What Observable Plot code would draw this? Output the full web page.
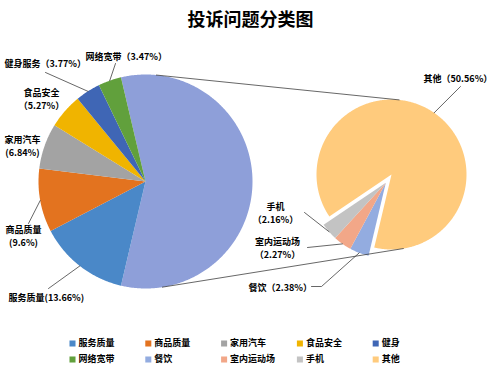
<!DOCTYPE html>
<html><head><meta charset="utf-8">
<script src="https://cdn.jsdelivr.net/npm/d3@7"></script>
<script src="https://cdn.jsdelivr.net/npm/@observablehq/plot@0.6"></script>
<style>body{margin:0;background:#fff}</style>
</head><body><div id="chart"></div>
<script>
// ---- data ----
const title = "投诉问题分类图";
const mainCats = ["服务质量","商品质量","家用汽车","食品安全","健身服务","网络宽带"];
const mainVals = [13.66, 9.6, 6.84, 5.27, 3.77, 3.47];
const subCats = ["餐饮","室内运动场","手机","其他"];
const subVals = [2.38, 2.27, 2.16, 50.56];
const legendCats = ["服务质量","商品质量","家用汽车","食品安全","健身","网络宽带","餐饮","室内运动场","手机","其他"];
const legendColors = ["#4A88C8","#E3731F","#A3A3A3","#F0B400","#3F66B5","#61A03C","#93ACE0","#F2A788","#C3C3C3","#FFCB7D"];
const aggColor = "#8E9FD9";

// ---- layout ----
const W = 500, H = 371;
const C1 = [145, 181], R1 = 107;   // main pie
const C2 = [391, 174], R2 = 75;    // secondary pie
const explode = 10;
const deg = Math.PI / 180;
// label layout: format, text position, anchor, leader waypoints (from slice edge)
const labelLayout = {
  "服务质量": {fmt: v => `服务质量(${v}%)`, x: 8, y: 296, anchor: "start", leader: [[48, 288]]},
  "商品质量": {fmt: v => `商品质量\n(${v}%)`, x: 23, y: 235, anchor: "middle", leader: [[28, 223]]},
  "家用汽车": {fmt: v => `家用汽车\n(${v}%)`, x: 22, y: 144.5, anchor: "middle", leader: null},
  "食品安全": {fmt: v => `食品安全\n（${v}%）`, x: 41, y: 97.5, anchor: "middle", leader: null},
  "健身服务": {fmt: v => `健身服务（${v}%）`, x: 4, y: 62, anchor: "start", leader: [[45, 72]]},
  "网络宽带": {fmt: v => `网络宽带（${v}%）`, x: 85, y: 55, anchor: "start", leader: [[115, 63]]},
  "其他": {fmt: v => `其他（${v}%）`, x: 423, y: 77, anchor: "start", leader: [[460, 86]]},
  "手机": {fmt: v => `手机\n（${v}%）`, x: 275, y: 211.5, anchor: "middle", leader: [[304, 212]]},
  "室内运动场": {fmt: v => `室内运动场\n（${v}%）`, x: 277, y: 246.5, anchor: "middle", leader: [[307, 247]]},
  "餐饮": {fmt: v => `餐饮（${v}%）`, x: 248, y: 286, anchor: "start", leader: [[321, 286], [311, 286]]}
};

// ---- geometry from data ----
const colorOf = Object.fromEntries(legendCats.map((c, i) => [c, legendColors[i]]));
colorOf["健身服务"] = colorOf["健身"];
const aggVal = d3.sum(subVals);
const mainAll = [{cat: "__agg", v: aggVal, color: aggColor}]
  .concat(mainCats.map((c, i) => ({cat: c, v: mainVals[i], color: colorOf[c]})));
const total = d3.sum(mainAll, d => d.v);
const start1 = 90 * deg - aggVal / total * Math.PI;
const arcs1 = d3.pie().sort(null).value(d => d.v).startAngle(start1).endAngle(start1 + 2 * Math.PI)(mainAll);
const start2 = arcs1[0].endAngle;
const subAll = subCats.map((c, i) => ({cat: c, v: subVals[i], color: colorOf[c]}));
const arcs2 = d3.pie().sort(null).value(d => d.v).startAngle(start2).endAngle(start2 + 2 * Math.PI)(subAll);
const smallMid = (arcs2[0].startAngle + arcs2[2].endAngle) / 2;
const C2s = [C2[0] + explode * Math.sin(smallMid), C2[1] - explode * Math.cos(smallMid)];

function wedge(c, r, a0, a1, key, color) {
  const pts = [{key, color, x: c[0], y: c[1]}];
  const n = Math.max(2, Math.ceil((a1 - a0) / (0.5 * deg)));
  for (let i = 0; i <= n; i++) {
    const a = a0 + (a1 - a0) * i / n;
    pts.push({key, color, x: c[0] + r * Math.sin(a), y: c[1] - r * Math.cos(a)});
  }
  pts.push({key, color, x: c[0], y: c[1]});
  return pts;
}
const slicePts = [];
const edgePoint = {};
arcs1.forEach(a => {
  slicePts.push(...wedge(C1, R1, a.startAngle, a.endAngle, "m-" + a.data.cat, a.data.color));
  const m = (a.startAngle + a.endAngle) / 2;
  edgePoint[a.data.cat] = {v: a.data.v, p: [C1[0] + R1 * Math.sin(m), C1[1] - R1 * Math.cos(m)]};
});
arcs2.forEach((a, i) => {
  const c = i < 3 ? C2s : C2;
  slicePts.push(...wedge(c, R2, a.startAngle, a.endAngle, "s-" + a.data.cat, a.data.color));
  const m = (a.startAngle + a.endAngle) / 2;
  edgePoint[a.data.cat] = {v: a.data.v, p: [c[0] + R2 * Math.sin(m), c[1] - R2 * Math.cos(m)]};
});

// connector (external tangent) lines between pies
const dx = C2[0] - C1[0], dy = C2[1] - C1[1], dist = Math.hypot(dx, dy);
const baseAng = Math.atan2(dx, -dy), phi = Math.acos((R1 - R2) / dist);
const connPts = [];
[baseAng - phi, baseAng + phi].forEach((a, k) => {
  connPts.push({k, x: C1[0] + R1 * Math.sin(a), y: C1[1] - R1 * Math.cos(a)});
  connPts.push({k, x: C2[0] + R2 * Math.sin(a), y: C2[1] - R2 * Math.cos(a)});
});

// labels & leaders
const labels = [], leaderPts = [];
Object.entries(labelLayout).forEach(([cat, L]) => {
  const e = edgePoint[cat];
  labels.push({text: L.fmt(e.v), x: L.x, y: L.y, anchor: L.anchor});
  if (L.leader) {
    leaderPts.push({k: cat, x: e.p[0], y: e.p[1]});
    L.leader.forEach(p => leaderPts.push({k: cat, x: p[0], y: p[1]}));
  }
});

// legend
const legend = legendCats.map((c, i) => ({cat: c, color: legendColors[i], x: 72 + (i % 5) * 75.8, y: 343 + Math.floor(i / 5) * 16}));

const font = "'Noto Sans CJK SC', 'Noto Sans', sans-serif";
const labelStyle = {x: "x", y: "y", text: "text", fontSize: 9, fontWeight: "bold", fill: "#000", lineHeight: 1.45};
const chart = Plot.plot({
  width: W, height: H,
  margin: 0,
  x: {type: "identity", axis: null},
  y: {type: "identity", axis: null},
  color: {type: "identity"},
  style: {fontFamily: font, background: "#fff"},
  marks: [
    Plot.line(slicePts, {x: "x", y: "y", z: "key", fill: "color", stroke: "none", curve: "linear"}),
    Plot.line(connPts, {x: "x", y: "y", z: "k", stroke: "#404040", strokeWidth: 0.8}),
    Plot.line(leaderPts, {x: "x", y: "y", z: "k", stroke: "#404040", strokeWidth: 0.8}),
    Plot.text(labels.filter(d => d.anchor === "start"), {...labelStyle, textAnchor: "start"}),
    Plot.text(labels.filter(d => d.anchor === "middle"), {...labelStyle, textAnchor: "middle"}),
    Plot.text([title], {x: () => W / 2, y: () => 20, text: d => d, fontSize: 18, fontWeight: "bold", fill: "#000"}),
    Plot.dot(legend, {x: "x", y: "y", symbol: "square", r: 3.4, fill: "color", stroke: "none"}),
    Plot.text(legend, {x: d => d.x + 6, y: "y", text: "cat", textAnchor: "start", fontSize: 9, fontWeight: "bold", fill: "#000"})
  ]
});
document.getElementById("chart").appendChild(chart);
</script>
</body></html>
